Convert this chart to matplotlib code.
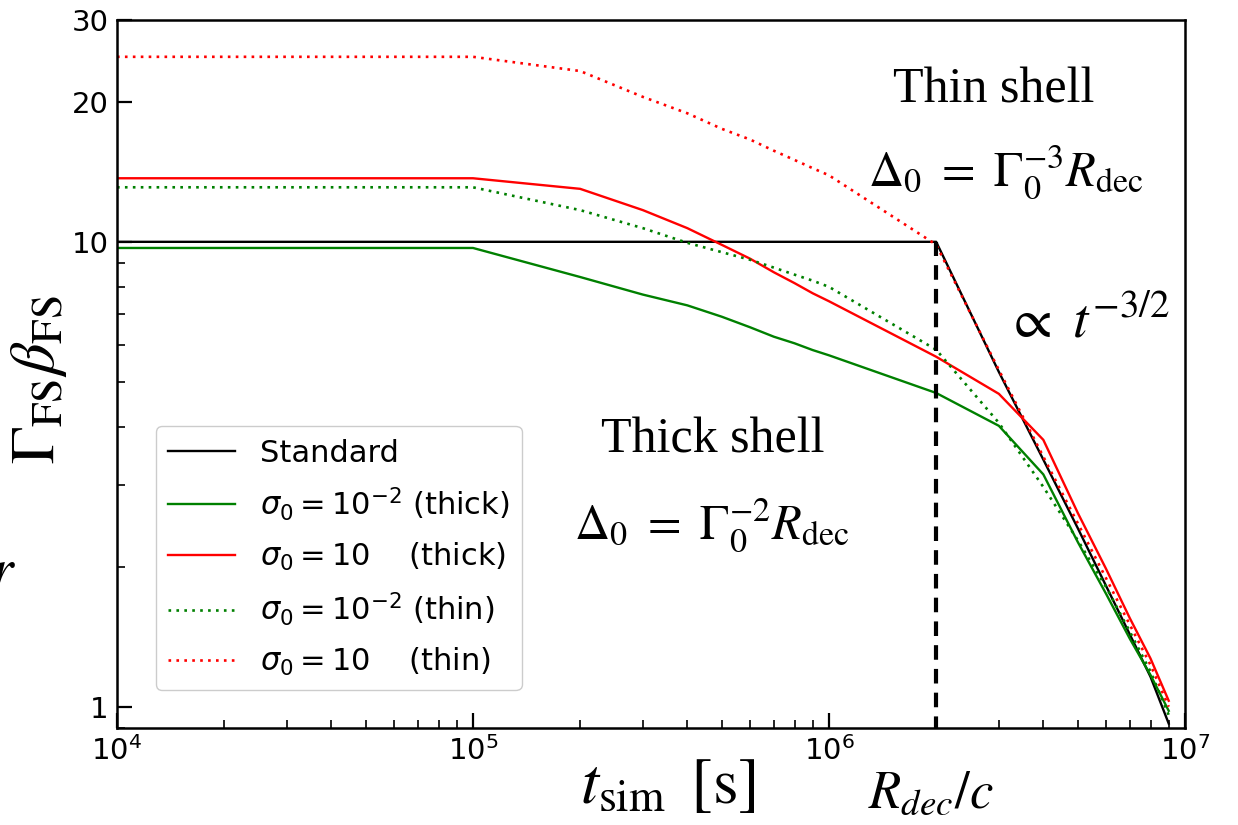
import matplotlib
matplotlib.use("Agg")
import matplotlib.pyplot as plt
from matplotlib.ticker import FixedLocator, NullFormatter, LogLocator, FixedFormatter

# Simulation times [s]
t_std = [1e4, 1e5, 1e6, 2e6, 3e6, 4e6, 5e6, 6e6, 7e6, 8e6, 9e6]
g_std = [10.0, 10.0, 10.0, 10.0, 5.25, 3.40, 2.42, 1.82, 1.43, 1.16, 0.92]

t_sim = [1e4, 1e5, 2e5, 3e5, 4e5, 5e5, 6e5, 7e5, 8e5, 9e5,
         1e6, 2e6, 3e6, 4e6, 5e6, 6e6, 7e6, 8e6, 9e6]

# sigma_0 = 1e-2, thick shell
g_lo_thick = [9.7, 9.7, 8.4, 7.7, 7.3, 6.9, 6.55, 6.25, 6.05, 5.85,
              5.7, 4.73, 4.02, 3.16, 2.26, 1.75, 1.40, 1.17, 0.98]
# sigma_0 = 10, thick shell
g_hi_thick = [13.7, 13.7, 13.0, 11.7, 10.7, 9.85, 9.2, 8.6, 8.15, 7.75,
              7.45, 5.66, 4.71, 3.75, 2.61, 1.98, 1.55, 1.27, 1.03]
# sigma_0 = 1e-2, thin shell
g_lo_thin = [13.1, 13.1, 11.7, 10.7, 9.95, 9.5, 9.15, 8.8, 8.5, 8.25,
             8.0, 5.86, 4.08, 2.97, 2.28, 1.81, 1.45, 1.19, 0.96]
# sigma_0 = 10, thin shell
g_hi_thin = [25.0, 25.0, 23.3, 20.5, 18.9, 17.5, 16.6, 15.7, 15.0, 14.4,
             13.9, 9.86, 5.30, 3.45, 2.48, 1.89, 1.50, 1.23, 1.00]

t_dec = 2e6
legend_labels = ["Standard",
                 r"$\sigma_0 = 10^{-2}$ (thick)",
                 r"$\sigma_0 = 10$    (thick)",
                 r"$\sigma_0 = 10^{-2}$ (thin)",
                 r"$\sigma_0 = 10$    (thin)"]

fig = plt.figure(figsize=(12.38, 8.25), dpi=100)
ax = fig.add_axes([117 / 1238, 1 - 728 / 825, 1068 / 1238, 708 / 825])

lw = 1.7
dots = (0, (1, 2.0))
ax.plot(t_std, g_std, color="black", lw=lw, label=legend_labels[0])
ax.plot(t_sim, g_lo_thick, color="green", lw=lw, label=legend_labels[1])
ax.plot(t_sim, g_hi_thick, color="red", lw=lw, label=legend_labels[2])
ax.plot(t_sim, g_lo_thin, color="green", lw=lw + 0.2, ls=dots, label=legend_labels[3])
ax.plot(t_sim, g_hi_thin, color="red", lw=lw + 0.2, ls=dots, label=legend_labels[4])

# deceleration time marker
ax.plot([t_dec, t_dec], [0.5, 10.0], color="black", lw=3, ls=(0, (3.5, 2.2)))

ax.set_xscale("log")
ax.set_yscale("log")
ax.set_xlim(1e4, 1e7)
ax.set_ylim(0.9, 30)

ax.yaxis.set_major_locator(FixedLocator([1, 10, 20, 30]))
ax.yaxis.set_major_formatter(FixedFormatter(["1", "10", "20", "30"]))
ax.yaxis.set_minor_locator(LogLocator(base=10, subs=range(2, 10)))
ax.yaxis.set_minor_formatter(NullFormatter())

ax.tick_params(which="major", direction="in", length=11, width=1.6, labelsize=21, pad=6)
ax.tick_params(which="minor", direction="in", length=6, width=1.2)
for s in ax.spines.values():
    s.set_linewidth(1.8)

ax.set_xlabel(r"$t_{\rm sim}\ \,[\rm s]$", fontsize=47, math_fontfamily="stix")
ax.xaxis.set_label_coords((668 - 117) / 1068, -0.035, transform=ax.transAxes)
ax.xaxis.label.set_va("top")
ax.set_ylabel(r"$\Gamma_{\rm FS}\beta_{\rm FS}$", fontsize=45, math_fontfamily="stix")
ax.yaxis.set_label_coords(-0.045, (728 - 380) / 708, transform=ax.transAxes)

leg = ax.legend(loc="lower left", bbox_to_anchor=(0.022, 0.032), fontsize=22,
                handlelength=2.2, labelspacing=0.58, borderpad=0.4, framealpha=1,
                edgecolor="#cccccc", fancybox=True)

def ftext(px, py, s, size, **kw):
    fig.text(px / 1238, 1 - py / 825, s, fontsize=size, **kw)

serif = ["Liberation Serif", "DejaVu Serif"]
ftext(994, 90, "Thin shell", 36, family=serif, ha="center", va="center")
ftext(1006, 172, r"$\Delta_0\ =\ \Gamma_0^{-3}R_{\rm dec}$", 35, math_fontfamily="stix", ha="center", va="center")
ftext(1087, 322, r"$\propto\ t^{-3/2}$", 40, math_fontfamily="stix", ha="center", va="center")
ftext(713, 440, "Thick shell", 36, family=serif, ha="center", va="center")
ftext(712, 525, r"$\Delta_0\ =\ \Gamma_0^{-2}R_{\rm dec}$", 35, math_fontfamily="stix", ha="center", va="center")
ftext(931, 793, r"$R_{dec}/c$", 38, math_fontfamily="stix", ha="center", va="center")
ftext(-9, 572, r"$r$", 40, math_fontfamily="stix", ha="left", va="center")

fig.savefig("out.png", dpi=100)
